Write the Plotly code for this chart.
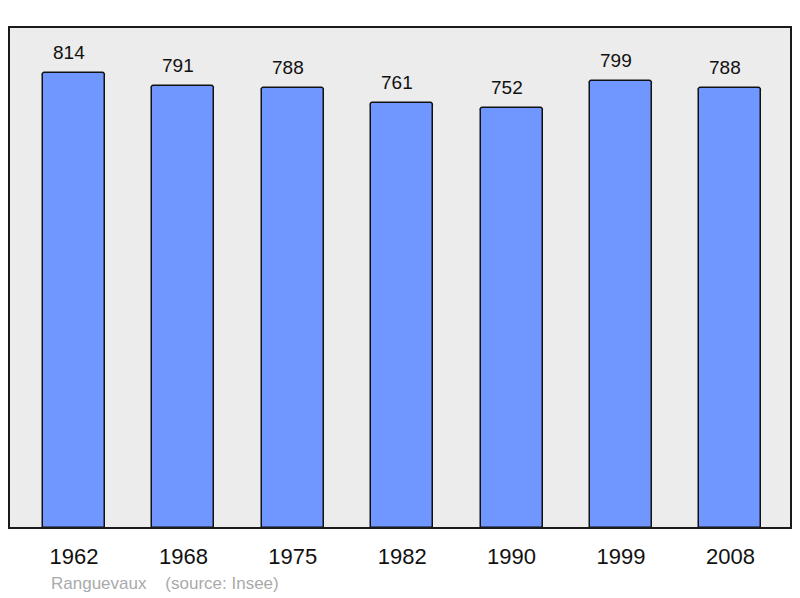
import plotly.graph_objects as go

years = ["1962", "1968", "1975", "1982", "1990", "1999", "2008"]
population = [814, 791, 788, 761, 752, 799, 788]
source_text = "Ranguevaux    (source: Insee)"

font_family = "Liberation Sans, Arial, sans-serif"

fig = go.Figure()
fig.add_trace(go.Bar(
    x=years, y=population,
    width=0.567,
    marker=dict(color="#7096ff", line=dict(color="#111111", width=1.5), cornerradius=3),
    hoverinfo="x+y",
))

for i, v in enumerate(population):
    fig.add_annotation(x=i, y=v, text=str(v), showarrow=False,
                       xref="x", yref="y",
                       yanchor="bottom", yshift=8, xshift=-5,
                       font=dict(family=font_family, size=19, color="#111111"))

fig.add_annotation(xref="paper", yref="paper", x=0.0512, y=-0.11, xanchor="left", yanchor="middle",
                   text=source_text.replace("    ", "&nbsp;&nbsp;&nbsp;&nbsp;"), showarrow=False,
                   font=dict(family=font_family, size=17, color="#aaaaaa"))

fig.add_shape(type="rect", xref="paper", yref="paper", x0=0, x1=1, y0=0, y1=1,
              line=dict(color="#1a1a1a", width=2), fillcolor="rgba(0,0,0,0)", layer="above")

fig.update_layout(
    width=800, height=598,
    margin=dict(l=9, r=9, t=27, b=70),
    paper_bgcolor="white", plot_bgcolor="#ececec",
    showlegend=False,
    xaxis=dict(type="category", range=[-0.594, 6.554], showgrid=False, zeroline=False,
               ticks="outside", ticklen=9, tickcolor="rgba(0,0,0,0)",
               tickfont=dict(family=font_family, size=22, color="#111111")),
    yaxis=dict(range=[0, 896.3], showgrid=False, zeroline=False, showticklabels=False, ticks=""),
    bargap=0,
)

fig.write_html("out.html", config={"displayModeBar": False},
               post_script="document.body.style.margin='0';")
